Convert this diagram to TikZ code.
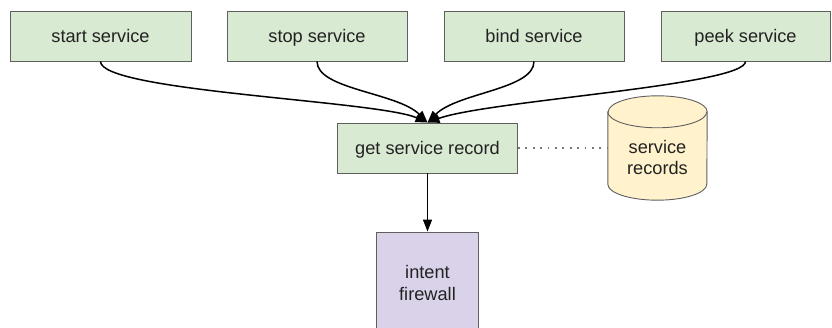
\documentclass[tikz,border=0pt]{standalone}
\usepackage{fontspec}
\setmainfont{Liberation Sans}
\usetikzlibrary{arrows.meta}
\definecolor{boxline}{HTML}{5F5F5F}
\definecolor{opfill}{HTML}{D9EAD3}
\definecolor{fwfill}{HTML}{D9D2E9}
\definecolor{dbfill}{HTML}{FFF2CC}
\definecolor{txt}{HTML}{222222}
\begin{document}
\begin{tikzpicture}[x=1pt,y=1pt,
  every node/.style={font=\fontsize{18.2}{21}\selectfont, text=txt},
  opbox/.style={draw=boxline, line width=0.9pt, fill=opfill, minimum height=50pt,
    inner sep=0pt, text height=14pt, text depth=0pt},
  fwbox/.style={draw=boxline, line width=0.9pt, fill=fwfill, minimum width=102pt,
    minimum height=96pt, inner sep=0pt},
  flow/.style={line width=1.5pt, black, -{Triangle[length=12pt,width=9pt]}},
  link/.style={line width=1.8pt, boxline!85, dash pattern=on 1.8pt off 5.6pt}]
\useasboundingbox (0,0) rectangle (832,328);

% operations
\node[opbox, minimum width=181pt] (start) at (100.5,292) {start service};
\node[opbox, minimum width=180pt] (stop)  at (317,292) {stop service};
\node[opbox, minimum width=180pt] (bind)  at (534,292) {bind service};
\node[opbox, minimum width=169pt] (peek)  at (745.5,292) {peek service};

% lookup and firewall
\node[opbox, minimum width=180pt] (rec) at (427.5,180) {get service record};
\node[fwbox] (fw) at (427.5,48) {};
\node[align=center, inner sep=0pt] (fwtext) at ([yshift=-3pt]fw.center) {intent\\firewall};

% record store (cylinder)
\node[minimum width=99pt, minimum height=104pt, inner sep=0pt] (db) at (657.5,180) {};
\fill[dbfill, draw=boxline, line width=0.9pt]
  ([yshift=-16pt]db.north west) -- ([yshift=16pt]db.south west)
  arc[start angle=180, end angle=360, x radius=49.5pt, y radius=16pt]
  -- ([yshift=-16pt]db.north east)
  arc[start angle=0, end angle=180, x radius=49.5pt, y radius=16pt] -- cycle;
\draw[boxline, line width=0.9pt] ([yshift=-16pt]db.north west)
  arc[start angle=180, end angle=360, x radius=49.5pt, y radius=16pt];
\node[align=center, inner sep=0pt] (dbtext) at (657.5,170) {service\\records};

% connectors
\draw[flow] (start.south) .. controls +(0,-30) and +(-50,22) .. (rec.north);
\draw[flow] (stop.south)  .. controls +(0,-28) and +(-30,30) .. (rec.north);
\draw[flow] (bind.south)  .. controls +(0,-28) and +(30,30) .. (rec.north);
\draw[flow] (peek.south)  .. controls +(0,-24) and +(60,22) .. (rec.north);
\draw[flow] (rec.south) -- (fw.north);
\draw[link] (rec.east) -- (db.west);
\end{tikzpicture}
\end{document}
